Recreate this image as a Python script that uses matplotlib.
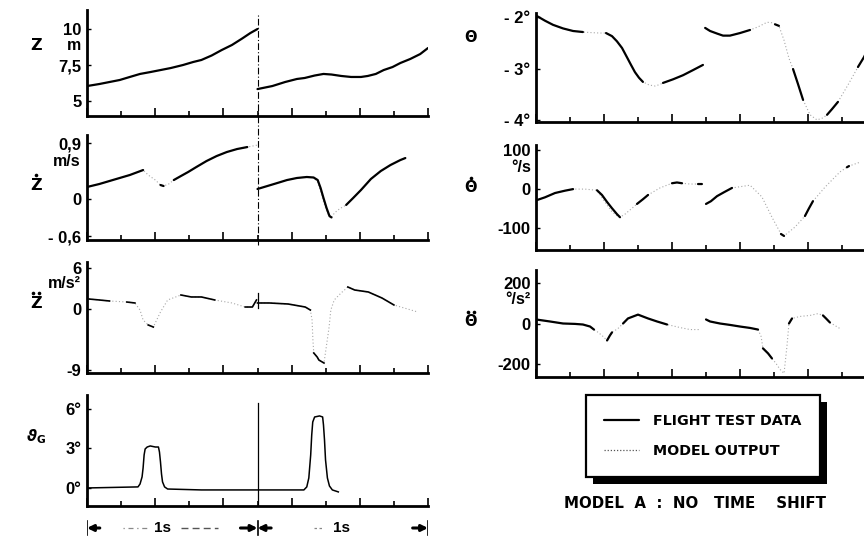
import numpy as np
import matplotlib
matplotlib.use("Agg")
import matplotlib.pyplot as plt
from matplotlib.lines import Line2D
from matplotlib.patches import Rectangle
from matplotlib.ticker import MultipleLocator
from matplotlib.transforms import blended_transform_factory, IdentityTransform

plt.rcParams['font.family'] = ['Liberation Sans', 'DejaVu Sans']
plt.rcParams['font.weight'] = 'bold'

nan = np.nan

# ---------------- vertical position z [m] ----------------
z_t = [0, .072, .132, .192, .251, .311, .371, .431, .491, .563, .623, .671, .731, .790, .850,
       .910, .958, 1.0, 1.0, 1.0, 1.087, 1.162, 1.231, 1.277, 1.335, 1.387, 1.434, 1.491,
       1.549, 1.607, 1.647, 1.694, 1.740, 1.792, 1.838, 1.896, 1.954, 2.0]
z_flight = [6.04, 6.18, 6.32, 6.46, 6.67, 6.88, 7.01, 7.15, 7.29, 7.50, 7.71, 7.85, 8.16, 8.54,
            8.89, 9.34, 9.72, 10.0, nan, 5.83, 6.04, 6.32, 6.53, 6.60, 6.77, 6.88, 6.84, 6.74,
            6.67, 6.67, 6.74, 6.88, 7.15, 7.36, 7.64, 7.92, 8.26, 8.68]

# ---------------- vertical velocity [m/s] ----------------
zd_t = [0, .072, .162, .251, .329, .359, .401, .431, .449, .479, .509, .551, .593, .641, .701,
        .760, .820, .880, .940, 1.0, 1.0, 1.0, 1.058, 1.116, 1.173, 1.231, 1.289, 1.329, 1.353,
        1.370, 1.387, 1.405, 1.422, 1.434, 1.451, 1.480, 1.520, 1.561, 1.607, 1.665, 1.723,
        1.780, 1.838, 1.867]
zd_flight = [.193, .241, .314, .386, .466, nan, nan, .225, .209, nan, .305, .370, .434, .514,
             .611, .691, .756, .804, .836, nan, nan,
             .161, .209, .257, .305, .338, .354, .346, .305, .177, .016, -.145, -.273, -.297,
             nan, nan, -.096, .016, .145, .322, .450, .547, .627, .659]
zd_model = [.193, .241, .314, .386, .466, .386, .305, .225, .209, .241, .305, .370, .434, .514,
            .611, .691, .756, .804, .836, .868, nan,
            .161, .209, .257, .305, .338, .354, .346, .27, .12, -.04, -.19, -.29, -.30,
            -.225, -.161, -.096, .016, .145, .322, .450, .547, .627, .659]

# ---------------- vertical acceleration [m/s^2] ----------------
zdd_t = [.012, .072, .132, .183, .234, .281, .311, .329, .359, .389, .431, .473, .551, .611,
         .671, .749, .850, .928, .970, .994, .997,
         1.0, 1.07, 1.18, 1.28, 1.31, 1.32, 1.325, 1.33, 1.35, 1.36, 1.39, 1.395, 1.42, 1.43,
         1.45, 1.49, 1.53, 1.57, 1.65, 1.73, 1.80, 1.86, 1.94]
zdd_flight = [1.46, 1.32, 1.17, nan, 1.02, .88, nan, nan, -2.34, -2.64, nan, nan, 2.05, 1.76,
              1.76, 1.32, nan, .29, .29, 1.32, nan,
              .88, .88, .73, .29, -.15, nan, nan, -6.44, -7.03, -7.47, -7.91, nan, nan, nan,
              nan, nan, 3.22, 2.78, 2.49, 1.61, .59, nan, nan]
zdd_model = [1.46, 1.32, 1.17, 1.10, 1.02, .88, -.15, -1.61, -2.34, -2.64, -.44, 1.32, 2.05,
             1.76, 1.76, 1.32, .88, .29, .29, 1.32, nan,
             .88, .88, .73, .29, -.15, -1.61, -4.54, -6.44, -7.03, -7.47, -7.91, -7.03, -2.64,
             -.15, 1.32, 2.34, 3.22, 2.78, 2.49, 1.61, .59, .15, -.44]

# ---------------- gust angle input [deg] ----------------
g_t = [0, .299, .311, .323, .329, .335, .341, .353, .371, .401, .419, .425, .431, .437, .443,
       .455, .473, .671, 1.0, 1.272, 1.289, 1.301, 1.312, 1.318, 1.324, 1.335, 1.364, 1.382,
       1.387, 1.393, 1.399, 1.410, 1.422, 1.439, 1.474]
g_deg = [0, .08, .30, .84, 1.52, 2.51, 2.96, 3.11, 3.19, 3.11, 3.11, 2.73, 1.97, 1.06, .46,
         .08, -.08, -.15, -.15, -.15, .08, .76, 2.51, 4.02, 5.01, 5.39, 5.47, 5.39, 4.78, 3.64,
         2.13, .76, .15, -.15, -.30]

# ---------------- pitch attitude [deg] ----------------
th_t = [.006, .053, .100, .159, .218, .276, .318, .376, .412, .447, .476, .506, .535, .559,
        .582, .606, .629, .665, .700, .729, .747, .806, .865, .924, .982, .99, .995, 1.024,
        1.065, 1.100, 1.141, 1.200, 1.259, 1.306, 1.359, 1.388, 1.406, 1.429, 1.459, 1.488,
        1.512, 1.541, 1.571, 1.612, 1.653, 1.688, 1.712, 1.741, 1.776, 1.835, 1.894, 1.929,
        1.965]
th_flight = [-1.98, -2.07, -2.15, -2.22, -2.27, -2.29, nan, nan, -2.31, -2.37, -2.47, -2.60,
             -2.78, -2.93, -3.07, -3.18, -3.26, nan, nan, nan, -3.28, -3.21, -3.13, -3.03,
             -2.93, nan, -2.21, -2.27, -2.32, -2.36, -2.36, -2.31, -2.25, nan, nan, nan,
             -2.14, -2.17, nan, nan, -3.01, -3.30, -3.61, nan, nan, nan, -3.90, -3.79, -3.65,
             nan, -2.97, -2.78, -2.54]
th_model = [-1.98, -2.07, -2.15, -2.22, -2.27, -2.29, -2.30, -2.31, -2.31, -2.37, -2.47, -2.60,
            -2.78, -2.93, -3.07, -3.18, -3.26, -3.32, -3.34, -3.31, -3.28, -3.21, -3.13, -3.03,
            -2.93, nan, -2.21, -2.27, -2.32, -2.36, -2.36, -2.31, -2.25, -2.19, -2.10, -2.11,
            -2.14, -2.17, -2.45, -2.80, -3.01, -3.30, -3.61, -3.90, -4.0, -3.96, -3.90, -3.79,
            -3.65, -3.32, -2.97, -2.78, -2.54]

# ---------------- pitch rate [deg/s] ----------------
thd_t = [.006, .053, .112, .171, .218, .288, .359, .388, .418, .447, .476, .494, .524, .565,
         .594, .629, .659, .729, .800, .829, .859, .906, .953, .976, .99, 1.0, 1.029, 1.065,
         1.106, 1.153, 1.259, 1.329, 1.388, 1.435, 1.441, 1.459, 1.524, 1.582, 1.606, 1.629,
         1.700, 1.788, 1.829, 1.841, 1.906]
thd_flight = [-28, -21, -10, -4, 0, nan, -3, -15, -33, -49, -64, -72, nan, nan, -38, -26, -15,
              nan, 15, 17, 15, nan, 13, 13, nan, -38, -31, -18, -8, 3, nan, nan, nan, nan,
              -115, -120, nan, -69, -49, -31, nan, nan, 56, 59, nan]
thd_model = [-28, -21, -10, -4, 0, 0, -3, -22, -41, -58, -68, -72, -64, -49, -38, -26, -15, 3,
             15, 17, 15, 13, 13, 13, nan, -38, -31, -18, -8, 3, 10, -20, -72, -110, -115, -120,
             -97, -69, -49, -31, 5, 44, 56, 59, 69]

# ---------------- pitch acceleration [deg/s^2] ----------------
thdd_t = [0, .082, .159, .229, .276, .318, .341, .359, .388, .418, .435, .447, .482, .512,
          .541, .600, .659, .712, .771, .847, .906, .965, .99, 1.0, 1.024, 1.082, 1.141, 1.200,
          1.259, 1.306, 1.324, 1.335, 1.365, 1.388, 1.412, 1.435, 1.459, 1.476, 1.488, 1.506,
          1.553, 1.612, 1.659, 1.688, 1.706, 1.729, 1.788]
thdd_flight = [20, 10, 0, -2, -5, -15, -30, nan, nan, -84, -59, -44, nan, 0, 25, 44, 25, 10,
               -5, nan, nan, nan, nan, 20, 10, 0, -7, -15, -22, -30, nan, -123, -148, -173,
               nan, nan, nan, nan, 0, 25, nan, nan, nan, 40, 25, 5, nan]
thdd_model = [20, 10, 0, -2, -5, -15, -30, -40, -59, -84, -59, -44, -25, 0, 25, 44, 25, 10,
              -5, -20, -30, -30, nan, 20, 10, 0, -7, -15, -22, -30, -64, -123, -148, -173,
              -198, -227, -247, -114, 0, 25, 35, 40, 49, 40, 25, 5, -25]

W, H = 864, 540
fig = plt.figure(figsize=(W / 100, H / 100), dpi=100)


def box(x0, y0, x1, y1):
    return [x0 / W, 1 - y1 / H, (x1 - x0) / W, (y1 - y0) / H]


def px(x, y):
    return x / W, 1 - y / H


def panel(rect, ylim, ticks, labels):
    ax = fig.add_axes(rect)
    ax.set_xlim(0, 2)
    ax.set_ylim(*ylim)
    ax.patch.set_alpha(0)
    for s in ('top', 'right'):
        ax.spines[s].set_visible(False)
    for s in ('left', 'bottom'):
        ax.spines[s].set_linewidth(2.0)
    ax.xaxis.set_major_locator(MultipleLocator(0.4))
    ax.xaxis.set_minor_locator(MultipleLocator(0.2))
    ax.tick_params(axis='x', which='major', direction='in', length=6, width=1.2,
                   labelbottom=False)
    ax.tick_params(axis='x', which='minor', direction='in', length=3.5, width=1.2)
    ax.set_yticks(ticks, labels)
    ax.tick_params(axis='y', direction='in', length=3, width=1, labelsize=12, pad=4)
    return ax


def dotted_name(x, y, letter, ndots, size):
    """Variable name with one or two derivative dots above it."""
    fig.text(*px(x, y), letter, fontsize=size, fontweight='bold', ha='center', va='center',
             family=['DejaVu Sans'])
    top = y - size * 0.95
    xs = [x] if ndots == 1 else [x - 3.2, x + 3.2]
    for xd in xs:
        fig.add_artist(Line2D([xd / W], [1 - top / H], marker='o', ms=2.6, color='black',
                              mec='none', transform=fig.transFigure))


FLIGHT = dict(color='black', lw=1.6, solid_capstyle='round')
MODEL = dict(color='#a8a8a8', lw=0.8, ls=(0, (1, 2)))

# ----- left column -----
axz = panel(box(87, 10, 428, 116), (3.96, 11.32), [5, 7.5, 10], ['5', '7,5', '10'])
axz.plot(z_t, z_flight, **FLIGHT)

axzd = panel(box(87, 135, 428, 240), (-0.66, 1.03), [-0.6, 0, 0.9], ['- 0,6', '0', '0,9'])
axzd.plot(zd_t, zd_model, **MODEL)
axzd.plot(zd_t, zd_flight, **FLIGHT)

axzdd = panel(box(87, 262, 428, 373), (-9.37, 6.88), [-9, 0, 6], ['-9', '0', '6'])
axzdd.plot(zdd_t, zdd_model, **MODEL)
axzdd.plot(zdd_t, zdd_flight, color='black', lw=1.2)
axzdd.plot([1, 1], [0.2, 2.4], color='black', lw=0.9)

axg = panel(box(87, 395, 428, 506), (-1.37, 7.06), [0, 3, 6], ['0°', '3°', '6°'])
axg.plot(g_t, g_deg, color='black', lw=1.1)
axg.axvline(1.0, ymin=0, ymax=0.93, color='black', lw=0.9)

# dash-dot marker of the 1 s split through the upper two panels
split = Line2D([1, 1], [1 - 245 / H, 1 - 14 / H], color='black', lw=0.8,
               ls=(0, (6, 2, 1, 2)),
               transform=blended_transform_factory(axz.transData, fig.transFigure))
fig.add_artist(split)

# ----- right column -----
axth = panel(box(536, 13, 876, 122), (-4.04, -1.92), [-4, -3, -2], ['- 4°', '- 3°', '- 2°'])
axth.plot(th_t, th_model, **MODEL)
h_flight, = axth.plot(th_t, th_flight, **FLIGHT)
h_model, = axth.plot([], [], color='#555555', lw=0.9, ls=(0, (1, 1.5)))

axthd = panel(box(536, 145, 876, 250), (-156, 113), [-100, 0, 100], ['-100', '0', '100'])
axthd.plot(thd_t, thd_model, **MODEL)
axthd.plot(thd_t, thd_flight, **FLIGHT)

axthdd = panel(box(536, 270, 876, 377), (-265, 265), [-200, 0, 200], ['-200', '0', '200'])
axthdd.plot(thdd_t, thdd_model, **MODEL)
axthdd.plot(thdd_t, thdd_flight, **FLIGHT)

# ----- variable names and units -----
fig.text(*px(36, 46), 'Z', fontsize=11.5, fontweight='bold', ha='center', va='center',
         family=['DejaVu Sans'])
dotted_name(36, 186, 'Z', 1, 11.5)
dotted_name(36, 304, 'Z', 2, 11.5)
fig.text(*px(36, 437), r'$\vartheta_{\mathbf{G}}$', fontsize=11, ha='center', va='center')

fig.text(*px(471, 37), 'Θ', fontsize=10.5, fontweight='bold', ha='center', va='center',
         family=['DejaVu Sans'])
dotted_name(471, 188, 'Θ', 1, 10.5)
dotted_name(471, 322, 'Θ', 2, 10.5)

unit = dict(fontsize=11.5, fontweight='bold', ha='right', va='center')
fig.text(*px(81, 46), 'm', **unit)
fig.text(*px(81, 162), 'm/s', **unit)
fig.text(*px(81, 284), 'm/s²', **unit)
fig.text(*px(531, 168), '°/s', **unit)
fig.text(*px(531, 300), '°/s²', **unit)

# ----- time scale bar -----
axs = fig.add_axes(box(87, 516, 428, 540))
axs.set_xlim(0, 2)
axs.set_ylim(-1, 1)
axs.axis('off')
for tb in (0, 1, 2):
    axs.plot([tb, tb], [-0.55, 0.55], color='black', lw=1.2)
arrow = dict(arrowstyle='-|>', color='black', lw=2.2, mutation_scale=9, shrinkA=0, shrinkB=0)
axs.annotate('', xy=(0, 0), xytext=(0.075, 0), arrowprops=arrow)
axs.annotate('', xy=(1, 0), xytext=(0.90, 0), arrowprops=arrow)
axs.annotate('', xy=(1, 0), xytext=(1.08, 0), arrowprops=arrow)
axs.annotate('', xy=(2, 0), xytext=(1.91, 0), arrowprops=arrow)
axs.plot([0.21, 0.35], [0, 0], color='#888888', lw=0.9, ls=(0, (1, 3, 4, 3)))
axs.plot([0.55, 0.77], [0, 0], color='#555555', lw=1.0, ls=(0, (5, 3)))
axs.plot([1.33, 1.38], [0, 0], color='#888888', lw=0.9, ls=(0, (2, 2)))
axs.text(0.44, 0, '1s', fontsize=11, fontweight='bold', ha='center', va='center')
axs.text(1.49, 0, '1s', fontsize=11, fontweight='bold', ha='center', va='center')

# ----- legend with heavy drop shadow -----
leg = fig.legend([h_flight, h_model], ['FLIGHT TEST DATA', 'MODEL OUTPUT'],
                 loc='center', bbox_to_anchor=px(703, 436), frameon=True, fancybox=False,
                 edgecolor='black', framealpha=1, handlelength=2.4, handletextpad=1.0,
                 labelspacing=1.15, borderpad=1.3, borderaxespad=0,
                 prop=dict(family='DejaVu Sans', weight='bold', size=10.3))
leg.get_frame().set_linewidth(1.6)
fig.canvas.draw()
bb = leg.get_window_extent()
fig.add_artist(Rectangle((bb.x0 + 7, bb.y0 - 7), bb.width, bb.height, facecolor='black',
                         edgecolor='none', transform=IdentityTransform(), zorder=1))

fig.text(*px(695, 503), 'MODEL  A  :  NO   TIME    SHIFT', fontsize=10.8, fontweight='bold',
         ha='center', va='center', family=['DejaVu Sans'])

fig.savefig('out.png', dpi=100)
